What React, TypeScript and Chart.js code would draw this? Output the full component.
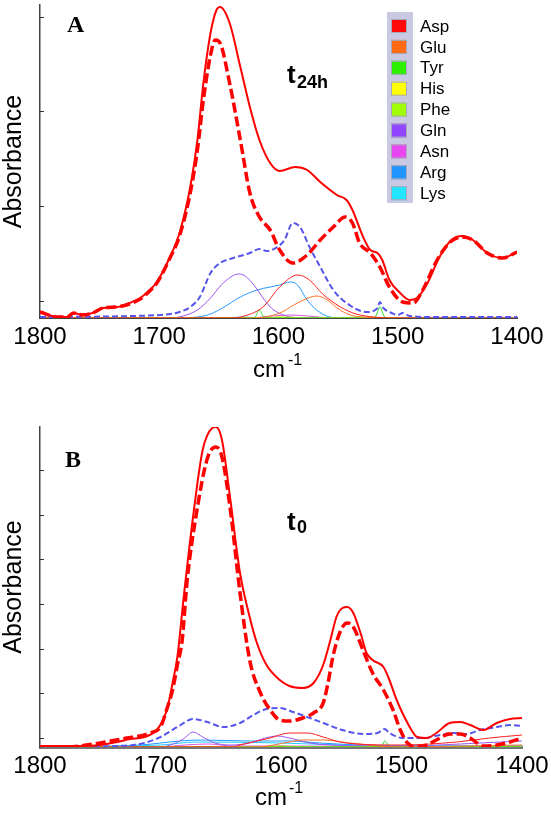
import React, { useEffect, useRef } from 'react';
import { Chart, registerables } from 'chart.js';
Chart.register(...registerables);

type Pt = [number, number];

const X_TICKS = [1800, 1700, 1600, 1500, 1400];
const A_Y_TICKS = [0.17, 1.12, 2.07, 3.01];
const B_Y_TICKS = [0.09, 0.54, 0.98, 1.43, 1.88, 2.32, 2.77];
const LEGEND_NAMES = ['Asp', 'Glu', 'Tyr', 'His', 'Phe', 'Gln', 'Asn', 'Arg', 'Lys'];
const LEGEND_COLORS = ['#ff0a0a', '#ff6a12', '#2cf000', '#ffff0a', '#a0ff08', '#9046ff', '#e846f0', '#2094ff', '#22e6ff'];
const LINE_COLORS = ['#ff2020', '#ff7020', '#22e022', '#f0e000', '#99dd00', '#9955ee', '#dd55dd', '#2299ff', '#22ccff'];

// ---- Panel A (t24h) ----
const A_TOTAL: Pt[] = [[1800,0.06],[1785,0.01],[1777,0.01],[1772,0.05],[1764,0.03],[1756,0.05],[1747,0.10],[1735,0.11],[1725,0.15],[1716,0.20],[1708,0.28],[1702,0.36],[1691,0.61],[1683,0.85],[1674,1.31],[1668,1.78],[1663,2.35],[1657,2.85],[1652,3.08],[1649,3.11],[1641,2.95],[1632,2.51],[1624,2.11],[1616,1.78],[1607,1.55],[1599,1.47],[1586,1.51],[1576,1.48],[1565,1.36],[1551,1.23],[1543,1.18],[1538,1.08],[1529,0.81],[1523,0.68],[1517,0.65],[1513,0.58],[1507,0.38],[1498,0.25],[1490,0.18],[1484,0.20],[1475,0.35],[1465,0.61],[1455,0.78],[1446,0.82],[1437,0.78],[1425,0.65],[1412,0.60],[1400,0.66]];
const A_DIFF: Pt[] = [[1800,0.06],[1785,0.01],[1777,0.01],[1772,0.05],[1764,0.03],[1756,0.05],[1747,0.10],[1735,0.11],[1725,0.14],[1716,0.19],[1708,0.27],[1702,0.35],[1691,0.60],[1683,0.82],[1674,1.25],[1668,1.68],[1663,2.18],[1657,2.63],[1653,2.78],[1649,2.75],[1641,2.35],[1632,1.78],[1624,1.25],[1616,1.01],[1607,0.88],[1599,0.68],[1588,0.55],[1576,0.63],[1565,0.78],[1554,0.91],[1544,1.01],[1538,0.95],[1532,0.75],[1523,0.65],[1515,0.51],[1507,0.31],[1496,0.16],[1487,0.15],[1479,0.28],[1467,0.58],[1456,0.76],[1446,0.81],[1437,0.78],[1425,0.65],[1412,0.60],[1400,0.66]];
const A_SUM: Pt[] = [[1800,0.01],[1699,0.03],[1683,0.06],[1674,0.11],[1666,0.21],[1657,0.45],[1649,0.55],[1638,0.60],[1624,0.65],[1616,0.69],[1610,0.67],[1601,0.71],[1595,0.78],[1588,0.95],[1582,0.91],[1574,0.71],[1565,0.51],[1554,0.28],[1543,0.15],[1526,0.06],[1517,0.10],[1515,0.16],[1512,0.10],[1505,0.05],[1500,0.03],[1496,0.05],[1490,0.02],[1473,0.01],[1400,0.01]];
const A_ASP: Pt[] = [[1800,0],[1641,0],[1632,0.01],[1613,0.11],[1599,0.31],[1584,0.43],[1574,0.38],[1563,0.24],[1548,0.11],[1535,0.04],[1520,0.01],[1505,0],[1400,0]];
const A_GLU: Pt[] = [[1800,0],[1620,0],[1607,0.02],[1597,0.06],[1590,0.11],[1579,0.18],[1568,0.22],[1559,0.18],[1551,0.10],[1540,0.03],[1529,0.01],[1500,0],[1400,0]];
const A_TYR: Pt[] = [[1800,0],[1621,0],[1619,0.02],[1616,0.08],[1613,0.02],[1611,0],[1520,0],[1518,0.03],[1515,0.11],[1512,0.03],[1510,0],[1400,0]];
const A_HIS: Pt[] = [[1800,0],[1610,0],[1595,0.01],[1580,0],[1400,0]];
const A_PHE: Pt[] = [[1800,0],[1610,0],[1600,0.01],[1590,0],[1400,0]];
const A_GLN: Pt[] = [[1800,0],[1691,0],[1680,0.02],[1668,0.08],[1657,0.20],[1648,0.33],[1640,0.41],[1634,0.44],[1628,0.42],[1620,0.32],[1613,0.20],[1606,0.10],[1598,0.04],[1590,0.01],[1570,0],[1400,0]];
const A_ASN: Pt[] = [[1800,0],[1625,0],[1605,0.02],[1590,0.03],[1575,0.02],[1555,0],[1400,0]];
const A_ARG: Pt[] = [[1800,0],[1690,0],[1668,0.01],[1657,0.04],[1647,0.10],[1632,0.21],[1618,0.28],[1607,0.31],[1599,0.33],[1590,0.36],[1584,0.33],[1576,0.18],[1568,0.08],[1557,0.01],[1545,0],[1400,0]];
const A_LYS: Pt[] = [[1800,0],[1650,0],[1630,0.01],[1610,0],[1400,0]];

// ---- Panel B (t0) ----
const B_TOTAL: Pt[] = [[1800,0.01],[1764,0.01],[1750,0.02],[1736,0.05],[1725,0.08],[1717,0.09],[1709,0.12],[1703,0.17],[1698,0.27],[1694,0.40],[1690,0.64],[1686,0.90],[1681,1.47],[1673,2.30],[1665,2.97],[1657,3.19],[1654,3.20],[1649,3.07],[1642,2.47],[1634,1.74],[1626,1.30],[1620,1.04],[1612,0.82],[1601,0.67],[1593,0.61],[1582,0.59],[1573,0.64],[1565,0.82],[1559,1.07],[1554,1.30],[1549,1.39],[1545,1.40],[1540,1.34],[1534,1.14],[1529,0.94],[1524,0.87],[1515,0.80],[1511,0.70],[1504,0.47],[1495,0.24],[1487,0.10],[1479,0.09],[1471,0.14],[1460,0.24],[1451,0.25],[1443,0.22],[1432,0.17],[1421,0.24],[1410,0.28],[1400,0.29]];
const B_DIFF: Pt[] = [[1800,0],[1778,0],[1750,0.04],[1728,0.09],[1717,0.11],[1709,0.14],[1700,0.20],[1695,0.37],[1690,0.57],[1686,0.82],[1682,1.07],[1678,1.65],[1670,2.35],[1661,2.89],[1654,3.00],[1649,2.90],[1642,2.37],[1634,1.54],[1626,0.87],[1617,0.54],[1609,0.37],[1601,0.27],[1593,0.26],[1582,0.29],[1573,0.34],[1565,0.44],[1561,0.64],[1557,0.90],[1551,1.15],[1545,1.24],[1540,1.20],[1532,0.97],[1524,0.74],[1515,0.57],[1507,0.37],[1501,0.17],[1495,0.04],[1487,0],[1479,0.02],[1471,0.07],[1460,0.13],[1451,0.13],[1443,0.09],[1432,0.01],[1421,0.02],[1410,0.05],[1400,0.09]];
const B_SUM: Pt[] = [[1800,0],[1736,0.01],[1717,0.03],[1700,0.10],[1686,0.20],[1673,0.28],[1661,0.25],[1648,0.20],[1634,0.24],[1623,0.32],[1612,0.38],[1601,0.39],[1590,0.35],[1576,0.29],[1565,0.24],[1549,0.17],[1532,0.13],[1520,0.14],[1514,0.18],[1510,0.14],[1499,0.09],[1482,0.09],[1468,0.12],[1457,0.14],[1446,0.13],[1435,0.17],[1421,0.20],[1410,0.22],[1400,0.21]];
const B_ASP: Pt[] = [[1800,0],[1640,0],[1634,0.02],[1609,0.09],[1593,0.14],[1578,0.14],[1565,0.10],[1551,0.05],[1537,0.03],[1501,0.02],[1454,0.05],[1427,0.09],[1400,0.12]];
const B_GLU: Pt[] = [[1800,0],[1620,0],[1593,0.05],[1582,0.07],[1565,0.07],[1543,0.04],[1518,0.01],[1500,0],[1450,0.01],[1400,0.02]];
const B_TYR: Pt[] = [[1800,0],[1518,0],[1516,0.02],[1514,0.06],[1511,0.02],[1509,0],[1400,0]];
const B_HIS: Pt[] = [[1800,0],[1400,0]];
const B_PHE: Pt[] = [[1800,0],[1620,0],[1600,0.01],[1580,0],[1400,0]];
const B_GLN: Pt[] = [[1800,0],[1700,0],[1692,0.02],[1681,0.08],[1673,0.15],[1665,0.10],[1655,0.04],[1642,0.02],[1626,0.04],[1613,0.09],[1603,0.11],[1593,0.09],[1576,0.04],[1559,0.02],[1501,0.01],[1451,0.03],[1418,0.05],[1400,0.06]];
const B_ASN: Pt[] = [[1800,0],[1700,0],[1680,0.02],[1660,0.03],[1640,0.01],[1600,0.01],[1400,0]];
const B_ARG: Pt[] = [[1800,0],[1717,0.02],[1684,0.06],[1667,0.07],[1626,0.06],[1593,0.06],[1568,0.04],[1534,0.02],[1480,0.01],[1400,0.01]];
const B_LYS: Pt[] = [[1800,0],[1700,0.02],[1670,0.05],[1600,0.04],[1550,0.02],[1480,0.01],[1400,0.01]];

const SANS = '"Liberation Sans", Arial, sans-serif';
const SERIF = '"Liberation Serif", "Times New Roman", serif';

interface PanelCfg {
  total: Pt[]; diff: Pt[]; sum: Pt[]; comps: Pt[][];
  yMax: number; yTicks: number[];
  height: number; padTop: number; padRight: number; xHeight: number;
  xBorderColor: string; xBorderWidth: number;
  letter: string; letterPos: [number, number];
  tSub: string; tPos: [number, number]; subPos: [number, number];
  cmPos: [number, number]; supPos: [number, number];
  legend: boolean;
}

function toXY(pts: Pt[]) { return pts.map(([x, y]) => ({ x, y })); }

function lineDs(pts: Pt[], color: string, width: number, dash: number[]) {
  return {
    data: toXY(pts), borderColor: color, borderWidth: width, borderDash: dash,
    pointRadius: 0, fill: false, cubicInterpolationMode: 'monotone' as const,
  };
}

function overlayPlugin(p: PanelCfg) {
  return {
    id: 'overlay',
    afterDraw(chart: any) {
      const { ctx, chartArea, scales } = chart;
      const ys = scales.y;
      ctx.save();
      ctx.strokeStyle = '#333';
      ctx.lineWidth = 1;
      for (const t of ys.ticks) {
        const py = Math.round(ys.getPixelForValue(t.value)) + 0.5;
        ctx.beginPath();
        ctx.moveTo(chartArea.left, py);
        ctx.lineTo(chartArea.left + 4, py);
        ctx.stroke();
      }
      ctx.fillStyle = '#000';
      ctx.textBaseline = 'alphabetic';
      ctx.textAlign = 'left';
      ctx.font = `bold 24px ${SERIF}`;
      ctx.fillText(p.letter, p.letterPos[0], p.letterPos[1]);
      ctx.font = `bold 26px ${SANS}`;
      ctx.fillText('t', p.tPos[0], p.tPos[1]);
      ctx.font = `bold 18px ${SANS}`;
      ctx.fillText(p.tSub, p.subPos[0], p.subPos[1]);
      ctx.font = `24px ${SANS}`;
      ctx.fillText('cm', p.cmPos[0], p.cmPos[1]);
      ctx.font = `16px ${SANS}`;
      ctx.fillText('-1', p.supPos[0], p.supPos[1]);
      if (p.legend) {
        ctx.fillStyle = '#c9c9e3';
        ctx.fillRect(387, 12, 26, 191);
        ctx.font = `17px ${SANS}`;
        ctx.textBaseline = 'middle';
        LEGEND_NAMES.forEach((name, i) => {
          const cy = 26 + i * 20.9;
          ctx.fillStyle = LEGEND_COLORS[i];
          ctx.fillRect(391, cy - 7, 16, 14);
          ctx.strokeStyle = '#a8a8b8';
          ctx.lineWidth = 1;
          ctx.strokeRect(391.5, cy - 6.5, 15, 13);
          ctx.fillStyle = '#000';
          ctx.fillText(name, 420, cy + 1);
        });
      }
      ctx.restore();
    },
  };
}

function buildConfig(p: PanelCfg): any {
  const datasets: any[] = [
    lineDs(p.total, '#ff0000', 2, []),
    lineDs(p.diff, '#ff0000', 3.5, [10, 4]),
    lineDs(p.sum, '#5555ee', 2, [6, 3]),
    ...p.comps.map((c, i) => lineDs(c, LINE_COLORS[i], 1, [])),
  ];
  return {
    type: 'line',
    data: { datasets },
    options: {
      animation: false,
      responsive: false,
      layout: { padding: { top: p.padTop, right: p.padRight, left: 0, bottom: 0 } },
      plugins: { legend: { display: false }, tooltip: { enabled: false } },
      scales: {
        x: {
          type: 'linear', reverse: true, min: 1400, max: 1800,
          afterBuildTicks: (s: any) => { s.ticks = X_TICKS.map((v) => ({ value: v })); },
          ticks: {
            font: { size: 24, family: SANS }, color: '#000', padding: 5, maxRotation: 0, autoSkip: false,
            callback: (v: any) => String(v),
          },
          grid: { display: false, drawTicks: false },
          border: { display: true, color: p.xBorderColor, width: p.xBorderWidth },
          afterFit: (s: any) => { s.height = p.xHeight; s.paddingLeft = 0; s.paddingRight = 0; },
        },
        y: {
          type: 'linear', min: 0, max: p.yMax,
          afterBuildTicks: (s: any) => { s.ticks = p.yTicks.map((v) => ({ value: v })); },
          ticks: { display: false },
          grid: { display: false, drawTicks: false },
          border: { display: true, color: '#444', width: 1.5 },
          title: { display: true, text: 'Absorbance', color: '#000', font: { size: 25, family: SANS, lineHeight: 1.15 }, padding: 0 },
          afterFit: (s: any) => { s.width = 40; },
        },
      },
    },
    plugins: [overlayPlugin(p)],
  };
}

const PANEL_A: PanelCfg = {
  total: A_TOTAL, diff: A_DIFF, sum: A_SUM,
  comps: [A_ASP, A_GLU, A_TYR, A_HIS, A_PHE, A_GLN, A_ASN, A_ARG, A_LYS],
  yMax: 3.13, yTicks: A_Y_TICKS,
  height: 400, padTop: 5, padRight: 34, xHeight: 82,
  xBorderColor: '#444', xBorderWidth: 2,
  letter: 'A', letterPos: [67, 32],
  tSub: '24h', tPos: [287, 83], subPos: [297, 88],
  cmPos: [253, 377], supPos: [288, 365],
  legend: true,
};

const PANEL_B: PanelCfg = {
  total: B_TOTAL, diff: B_DIFF, sum: B_SUM,
  comps: [B_ASP, B_GLU, B_TYR, B_HIS, B_PHE, B_GLN, B_ASN, B_ARG, B_LYS],
  yMax: 3.2, yTicks: B_Y_TICKS,
  height: 416, padTop: 27, padRight: 29, xHeight: 69,
  xBorderColor: '#777', xBorderWidth: 3,
  letter: 'B', letterPos: [65, 67],
  tSub: '0', tPos: [287, 130], subPos: [297, 133],
  cmPos: [255, 405], supPos: [289, 393],
  legend: false,
};

function Panel({ cfg, top }: { cfg: PanelCfg; top: number }) {
  const ref = useRef<HTMLCanvasElement>(null);
  useEffect(() => {
    if (!ref.current) return;
    const chart = new Chart(ref.current, buildConfig(cfg));
    return () => chart.destroy();
  }, [cfg]);
  return (
    <canvas
      ref={ref}
      width={551}
      height={cfg.height}
      style={{ position: 'absolute', left: 0, top, width: 551, height: cfg.height, display: 'block' }}
    />
  );
}

export default function App() {
  return (
    <div style={{ position: 'absolute', left: 0, top: 0, width: 551, height: 816, background: '#fff', overflow: 'hidden' }}>
      <Panel cfg={PANEL_A} top={0} />
      <Panel cfg={PANEL_B} top={400} />
    </div>
  );
}
